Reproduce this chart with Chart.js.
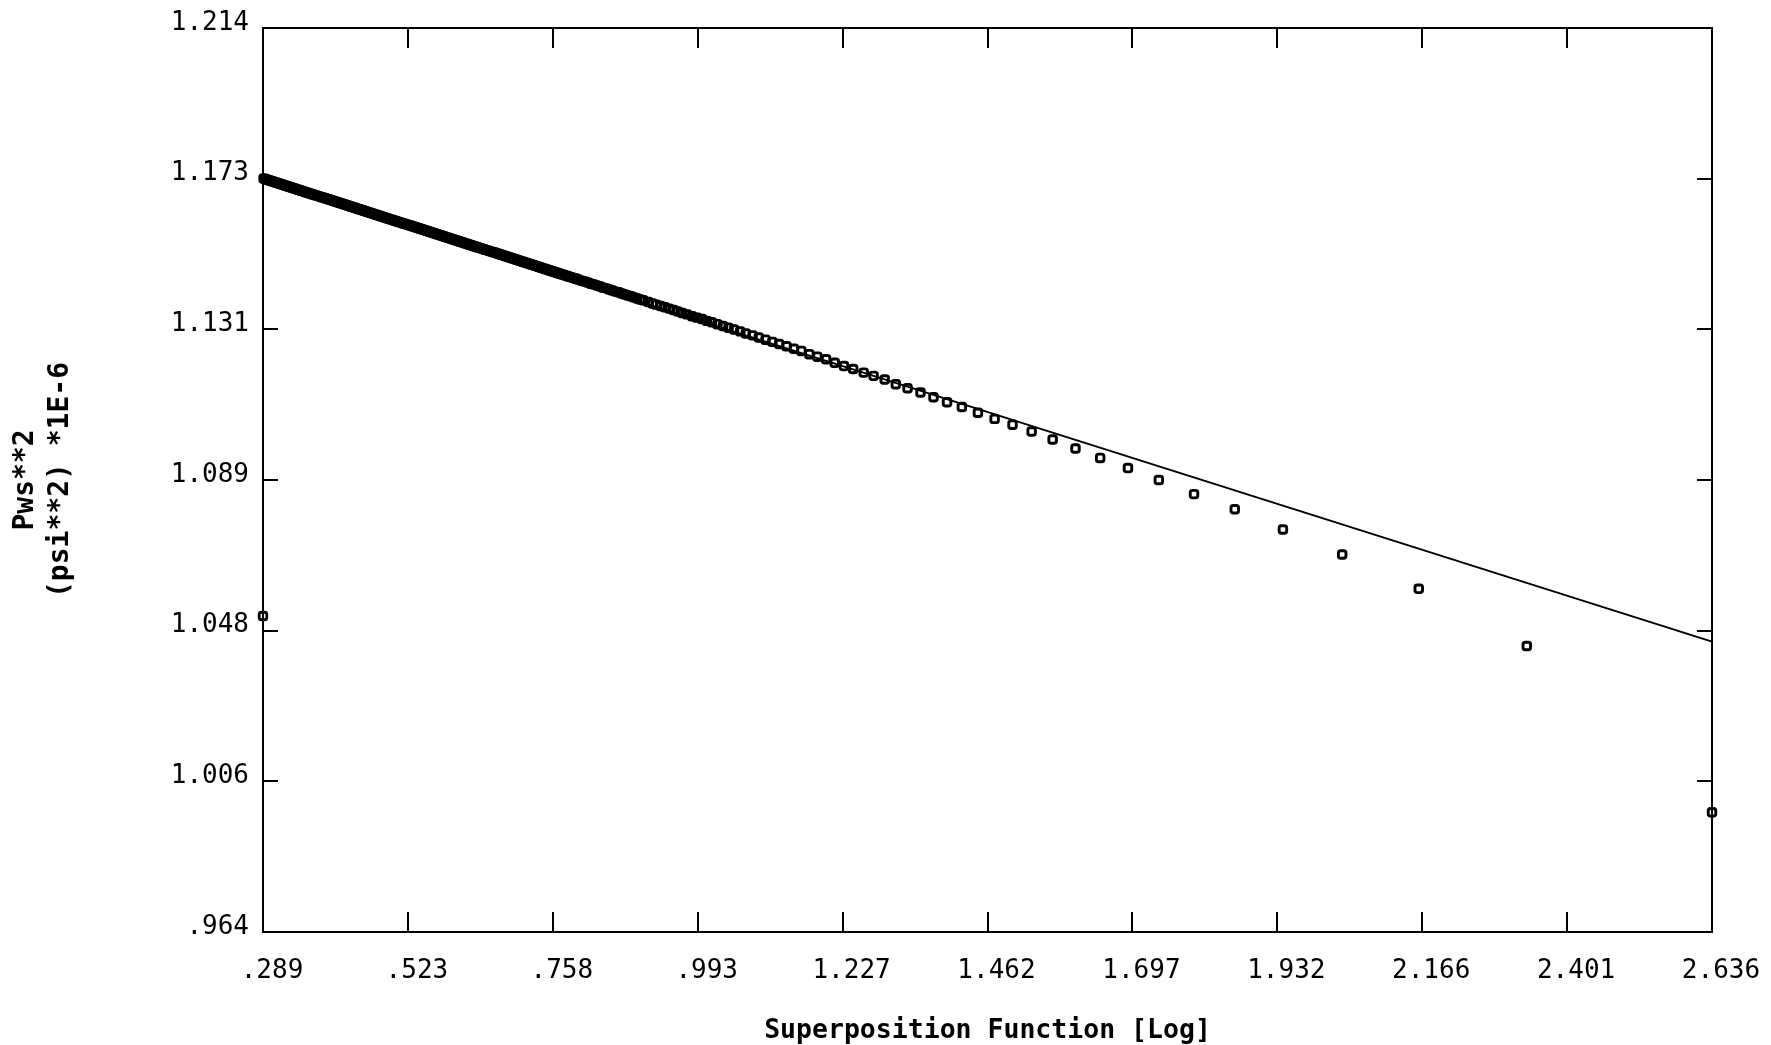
<!DOCTYPE html>
<html>
<head>
<meta charset="utf-8">
<script src="https://cdn.jsdelivr.net/npm/chart.js@4.4.1/dist/chart.umd.min.js"></script>
<style>
html, body { margin: 0; padding: 0; background: #ffffff; }
#wrap { width: 1771px; height: 1045px; position: relative; }
</style>
</head>
<body>
<div id="wrap"><canvas id="c" width="1771" height="1045"></canvas></div>
<script>
// ---- axis ticks ----
const xTickValues = [0.289, 0.5237, 0.7584, 0.9931, 1.2278, 1.4625, 1.6972, 1.9319, 2.1666, 2.4013, 2.636];
const xTickLabels = ['.289', '.523', '.758', '.993', '1.227', '1.462', '1.697', '1.932', '2.166', '2.401', '2.636'];
const yTickValues = [0.964, 1.00567, 1.04733, 1.089, 1.13067, 1.17233, 1.214];
const yTickLabels = ['.964', '1.006', '1.048', '1.089', '1.131', '1.173', '1.214'];

const xTitle = 'Superposition Function [Log]';
const yTitle = ['Pws**2', '(psi**2) *1E-6'];

// ---- measured points (superposition function, Pws^2 * 1E-6) ----
const pointX = [
  2.636, 2.336, 2.161, 2.037, 1.941, 1.863, 1.797, 1.740, 1.690, 1.645,
  1.605, 1.568, 1.534, 1.503, 1.474, 1.447, 1.421, 1.397, 1.375, 1.354,
  1.333, 1.314, 1.296, 1.278, 1.262, 1.245, 1.230, 1.215, 1.201, 1.187,
  1.174, 1.161, 1.149, 1.137, 1.125, 1.114, 1.103, 1.092, 1.082, 1.071,
  1.062, 1.052, 1.043, 1.034, 1.025, 1.016, 1.008, 1.000, 0.992, 0.984,
  0.976, 0.968, 0.961, 0.954, 0.947, 0.940, 0.933, 0.926, 0.920, 0.913,
  0.905, 0.900, 0.895, 0.890, 0.885, 0.880, 0.875, 0.870, 0.865, 0.860,
  0.855, 0.850, 0.845, 0.840, 0.835, 0.830, 0.825, 0.820, 0.815, 0.810,
  0.805,
  0.8000, 0.7975, 0.7950, 0.7925, 0.7900, 0.7875, 0.7850, 0.7825, 0.7800, 0.7775,
  0.7750, 0.7725, 0.7700, 0.7675, 0.7650, 0.7625, 0.7600, 0.7575, 0.7550, 0.7525,
  0.7500, 0.7475, 0.7450, 0.7425, 0.7400, 0.7375, 0.7350, 0.7325, 0.7300, 0.7275,
  0.7250, 0.7225, 0.7200, 0.7175, 0.7150, 0.7125, 0.7100, 0.7075, 0.7050, 0.7025,
  0.7000, 0.6975, 0.6950, 0.6925, 0.6900, 0.6875, 0.6850, 0.6825, 0.6800, 0.6775,
  0.6750, 0.6725, 0.6700, 0.6675, 0.6650, 0.6625, 0.6600, 0.6575, 0.6550, 0.6525,
  0.6500, 0.6475, 0.6450, 0.6425, 0.6400, 0.6375, 0.6350, 0.6325, 0.6300, 0.6275,
  0.6250, 0.6225, 0.6200, 0.6175, 0.6150, 0.6125, 0.6100, 0.6075, 0.6050, 0.6025,
  0.6000, 0.5975, 0.5950, 0.5925, 0.5900, 0.5875, 0.5850, 0.5825, 0.5800, 0.5775,
  0.5750, 0.5725, 0.5700, 0.5675, 0.5650, 0.5625, 0.5600, 0.5575, 0.5550, 0.5525,
  0.5500, 0.5475, 0.5450, 0.5425, 0.5400, 0.5375, 0.5350, 0.5325, 0.5300, 0.5275,
  0.5250, 0.5225, 0.5200, 0.5175, 0.5150, 0.5125, 0.5100, 0.5075, 0.5050, 0.5025,
  0.5000, 0.4975, 0.4950, 0.4925, 0.4900, 0.4875, 0.4850, 0.4825, 0.4800, 0.4775,
  0.4750, 0.4725, 0.4700, 0.4675, 0.4650, 0.4625, 0.4600, 0.4575, 0.4550, 0.4525,
  0.4500, 0.4475, 0.4450, 0.4425, 0.4400, 0.4375, 0.4350, 0.4325, 0.4300, 0.4275,
  0.4250, 0.4225, 0.4200, 0.4175, 0.4150, 0.4125, 0.4100, 0.4075, 0.4050, 0.4025,
  0.4000, 0.3975, 0.3950, 0.3925, 0.3900, 0.3875, 0.3850, 0.3825, 0.3800, 0.3775,
  0.3750, 0.3725, 0.3700, 0.3675, 0.3650, 0.3625, 0.3600, 0.3575, 0.3550, 0.3525,
  0.3500, 0.3475, 0.3450, 0.3425, 0.3400, 0.3375, 0.3350, 0.3325, 0.3300, 0.3275,
  0.3250, 0.3225, 0.3200, 0.3175, 0.3150, 0.3125, 0.3100, 0.3075, 0.3050, 0.3025,
  0.3000, 0.2975, 0.2950, 0.2925, 0.2900,
  0.289
];
const pointY = [
  0.9971, 1.0431, 1.0589, 1.0684, 1.0753, 1.0809, 1.0851, 1.0890, 1.0923, 1.0951,
  1.0977, 1.1002, 1.1024, 1.1043, 1.1059, 1.1076, 1.1092, 1.1105, 1.1119, 1.1132,
  1.1144, 1.1155, 1.1168, 1.1178, 1.1187, 1.1197, 1.1205, 1.1214, 1.1224, 1.1231,
  1.1238, 1.1247, 1.1253, 1.1260, 1.1266, 1.1272, 1.1278, 1.1284, 1.1290, 1.1295,
  1.1301, 1.1306, 1.1311, 1.1316, 1.1321, 1.1326, 1.1330, 1.1335, 1.1339, 1.1343,
  1.1348, 1.1352, 1.1356, 1.1360, 1.1364, 1.1368, 1.1371, 1.1375, 1.1378, 1.1382,
  1.1387, 1.1389, 1.1392, 1.1395, 1.1398, 1.1400, 1.1403, 1.1406, 1.1409, 1.1411,
  1.1414, 1.1417, 1.1420, 1.1422, 1.1425, 1.1428, 1.1431, 1.1433, 1.1436, 1.1439,
  1.1441,
  1.14442, 1.14456, 1.14470, 1.14483, 1.14497, 1.14511, 1.14524, 1.14538, 1.14552, 1.14566,
  1.14579, 1.14593, 1.14607, 1.14620, 1.14634, 1.14648, 1.14661, 1.14675, 1.14689, 1.14703,
  1.14716, 1.14730, 1.14744, 1.14757, 1.14771, 1.14785, 1.14798, 1.14812, 1.14826, 1.14840,
  1.14853, 1.14867, 1.14881, 1.14894, 1.14908, 1.14922, 1.14935, 1.14949, 1.14963, 1.14977,
  1.14990, 1.15004, 1.15018, 1.15031, 1.15045, 1.15059, 1.15072, 1.15086, 1.15100, 1.15114,
  1.15127, 1.15141, 1.15155, 1.15168, 1.15182, 1.15196, 1.15209, 1.15223, 1.15237, 1.15251,
  1.15264, 1.15278, 1.15292, 1.15305, 1.15319, 1.15333, 1.15346, 1.15360, 1.15374, 1.15388,
  1.15401, 1.15415, 1.15429, 1.15442, 1.15456, 1.15470, 1.15483, 1.15497, 1.15511, 1.15525,
  1.15538, 1.15552, 1.15566, 1.15579, 1.15593, 1.15607, 1.15620, 1.15634, 1.15648, 1.15662,
  1.15675, 1.15689, 1.15703, 1.15716, 1.15730, 1.15744, 1.15757, 1.15771, 1.15785, 1.15799,
  1.15812, 1.15826, 1.15840, 1.15853, 1.15867, 1.15881, 1.15894, 1.15908, 1.15922, 1.15936,
  1.15949, 1.15963, 1.15977, 1.15990, 1.16004, 1.16018, 1.16031, 1.16045, 1.16059, 1.16073,
  1.16086, 1.16100, 1.16114, 1.16127, 1.16141, 1.16155, 1.16168, 1.16182, 1.16196, 1.16210,
  1.16223, 1.16237, 1.16251, 1.16264, 1.16278, 1.16292, 1.16305, 1.16319, 1.16333, 1.16347,
  1.16360, 1.16374, 1.16388, 1.16401, 1.16415, 1.16429, 1.16442, 1.16456, 1.16470, 1.16484,
  1.16497, 1.16511, 1.16525, 1.16538, 1.16552, 1.16566, 1.16579, 1.16593, 1.16607, 1.16621,
  1.16634, 1.16648, 1.16662, 1.16675, 1.16689, 1.16703, 1.16716, 1.16730, 1.16744, 1.16758,
  1.16771, 1.16785, 1.16799, 1.16812, 1.16826, 1.16840, 1.16853, 1.16867, 1.16881, 1.16895,
  1.16908, 1.16922, 1.16936, 1.16949, 1.16963, 1.16977, 1.16990, 1.17004, 1.17018, 1.17032,
  1.17045, 1.17059, 1.17073, 1.17086, 1.17100, 1.17114, 1.17127, 1.17141, 1.17155, 1.17169,
  1.17182, 1.17196, 1.17210, 1.17223, 1.17237,
  1.0514
];

// ---- straight-line fit ----
const fitX = [0.289, 2.636];
const fitY = [1.1713, 1.0443];

// ---- rendering ----
Chart.defaults.font.family = "'DejaVu Sans Mono', 'Liberation Mono', monospace";
Chart.defaults.color = '#000000';

const PLOT_LEFT = 263, PLOT_TOP = 28, PLOT_RIGHT = 1712, PLOT_BOTTOM = 932;
const W = 1771, H = 1045;

const framePlugin = {
  id: 'frame',
  afterDatasetsDraw(chart) {
    const { ctx, chartArea: a, scales } = chart;
    const xs = scales.x, ys = scales.y;
    ctx.save();
    ctx.strokeStyle = '#000000';
    ctx.lineWidth = 2;
    ctx.lineCap = 'butt';
    ctx.strokeRect(a.left, a.top, a.right - a.left, a.bottom - a.top);
    ctx.beginPath();
    xTickValues.forEach(v => {
      const px = Math.round(xs.getPixelForValue(v));
      ctx.moveTo(px, a.bottom); ctx.lineTo(px, a.bottom - 20);
      ctx.moveTo(px, a.top); ctx.lineTo(px, a.top + 20);
    });
    yTickValues.forEach(v => {
      const py = Math.round(ys.getPixelForValue(v));
      ctx.moveTo(a.left, py); ctx.lineTo(a.left + 15, py);
      ctx.moveTo(a.right, py); ctx.lineTo(a.right - 15, py);
    });
    ctx.stroke();
    ctx.restore();
  }
};

new Chart(document.getElementById('c'), {
  type: 'scatter',
  data: {
    datasets: [
      {
        label: 'Pws**2',
        data: pointX.map((x, i) => ({ x: x, y: pointY[i] })),
        showLine: false,
        pointStyle: 'rectRounded',
        pointRadius: 4.4,
        pointBorderWidth: 2.9,
        pointBorderColor: '#000000',
        pointBackgroundColor: 'rgba(0,0,0,0)',
        clip: false
      },
      {
        label: 'fit',
        data: fitX.map((x, i) => ({ x: x, y: fitY[i] })),
        showLine: true,
        borderColor: '#000000',
        borderWidth: 2,
        pointRadius: 0,
        fill: false,
        clip: false
      }
    ]
  },
  options: {
    responsive: false,
    animation: false,
    devicePixelRatio: 1,
    layout: { padding: { left: 0, top: PLOT_TOP, right: W - PLOT_RIGHT, bottom: 0 } },
    plugins: { legend: { display: false }, tooltip: { enabled: false } },
    scales: {
      x: {
        type: 'linear',
        min: 0.289,
        max: 2.636,
        afterBuildTicks: (scale) => { scale.ticks = xTickValues.map(v => ({ value: v })); },
        afterFit: (scale) => { scale.height = H - PLOT_BOTTOM; },
        grid: { display: false },
        border: { display: false },
        ticks: {
          autoSkip: false,
          maxRotation: 0,
          minRotation: 0,
          padding: 16,
          labelOffset: 9,
          font: { size: 26 },
          color: '#000000',
          callback: (v, i) => xTickLabels[i]
        },
        title: {
          display: true,
          text: xTitle,
          font: { size: 26.5, weight: 'bold', lineHeight: 1.05 },
          color: '#000000',
          padding: { top: 0, bottom: 0 }
        }
      },
      y: {
        type: 'linear',
        min: 0.964,
        max: 1.214,
        afterBuildTicks: (scale) => { scale.ticks = yTickValues.map(v => ({ value: v })); },
        afterFit: (scale) => { scale.width = PLOT_LEFT; },
        grid: { display: false },
        border: { display: false },
        ticks: {
          autoSkip: false,
          padding: 6,
          labelOffset: -5,
          font: { size: 26 },
          color: '#000000',
          callback: (v, i) => yTickLabels[i]
        },
        title: {
          display: true,
          text: yTitle,
          font: { size: 28, weight: 'bold', lineHeight: 1.25 },
          color: '#000000',
          padding: { top: 8, bottom: 0 }
        }
      }
    }
  },
  plugins: [framePlugin]
});
</script>
</body>
</html>
